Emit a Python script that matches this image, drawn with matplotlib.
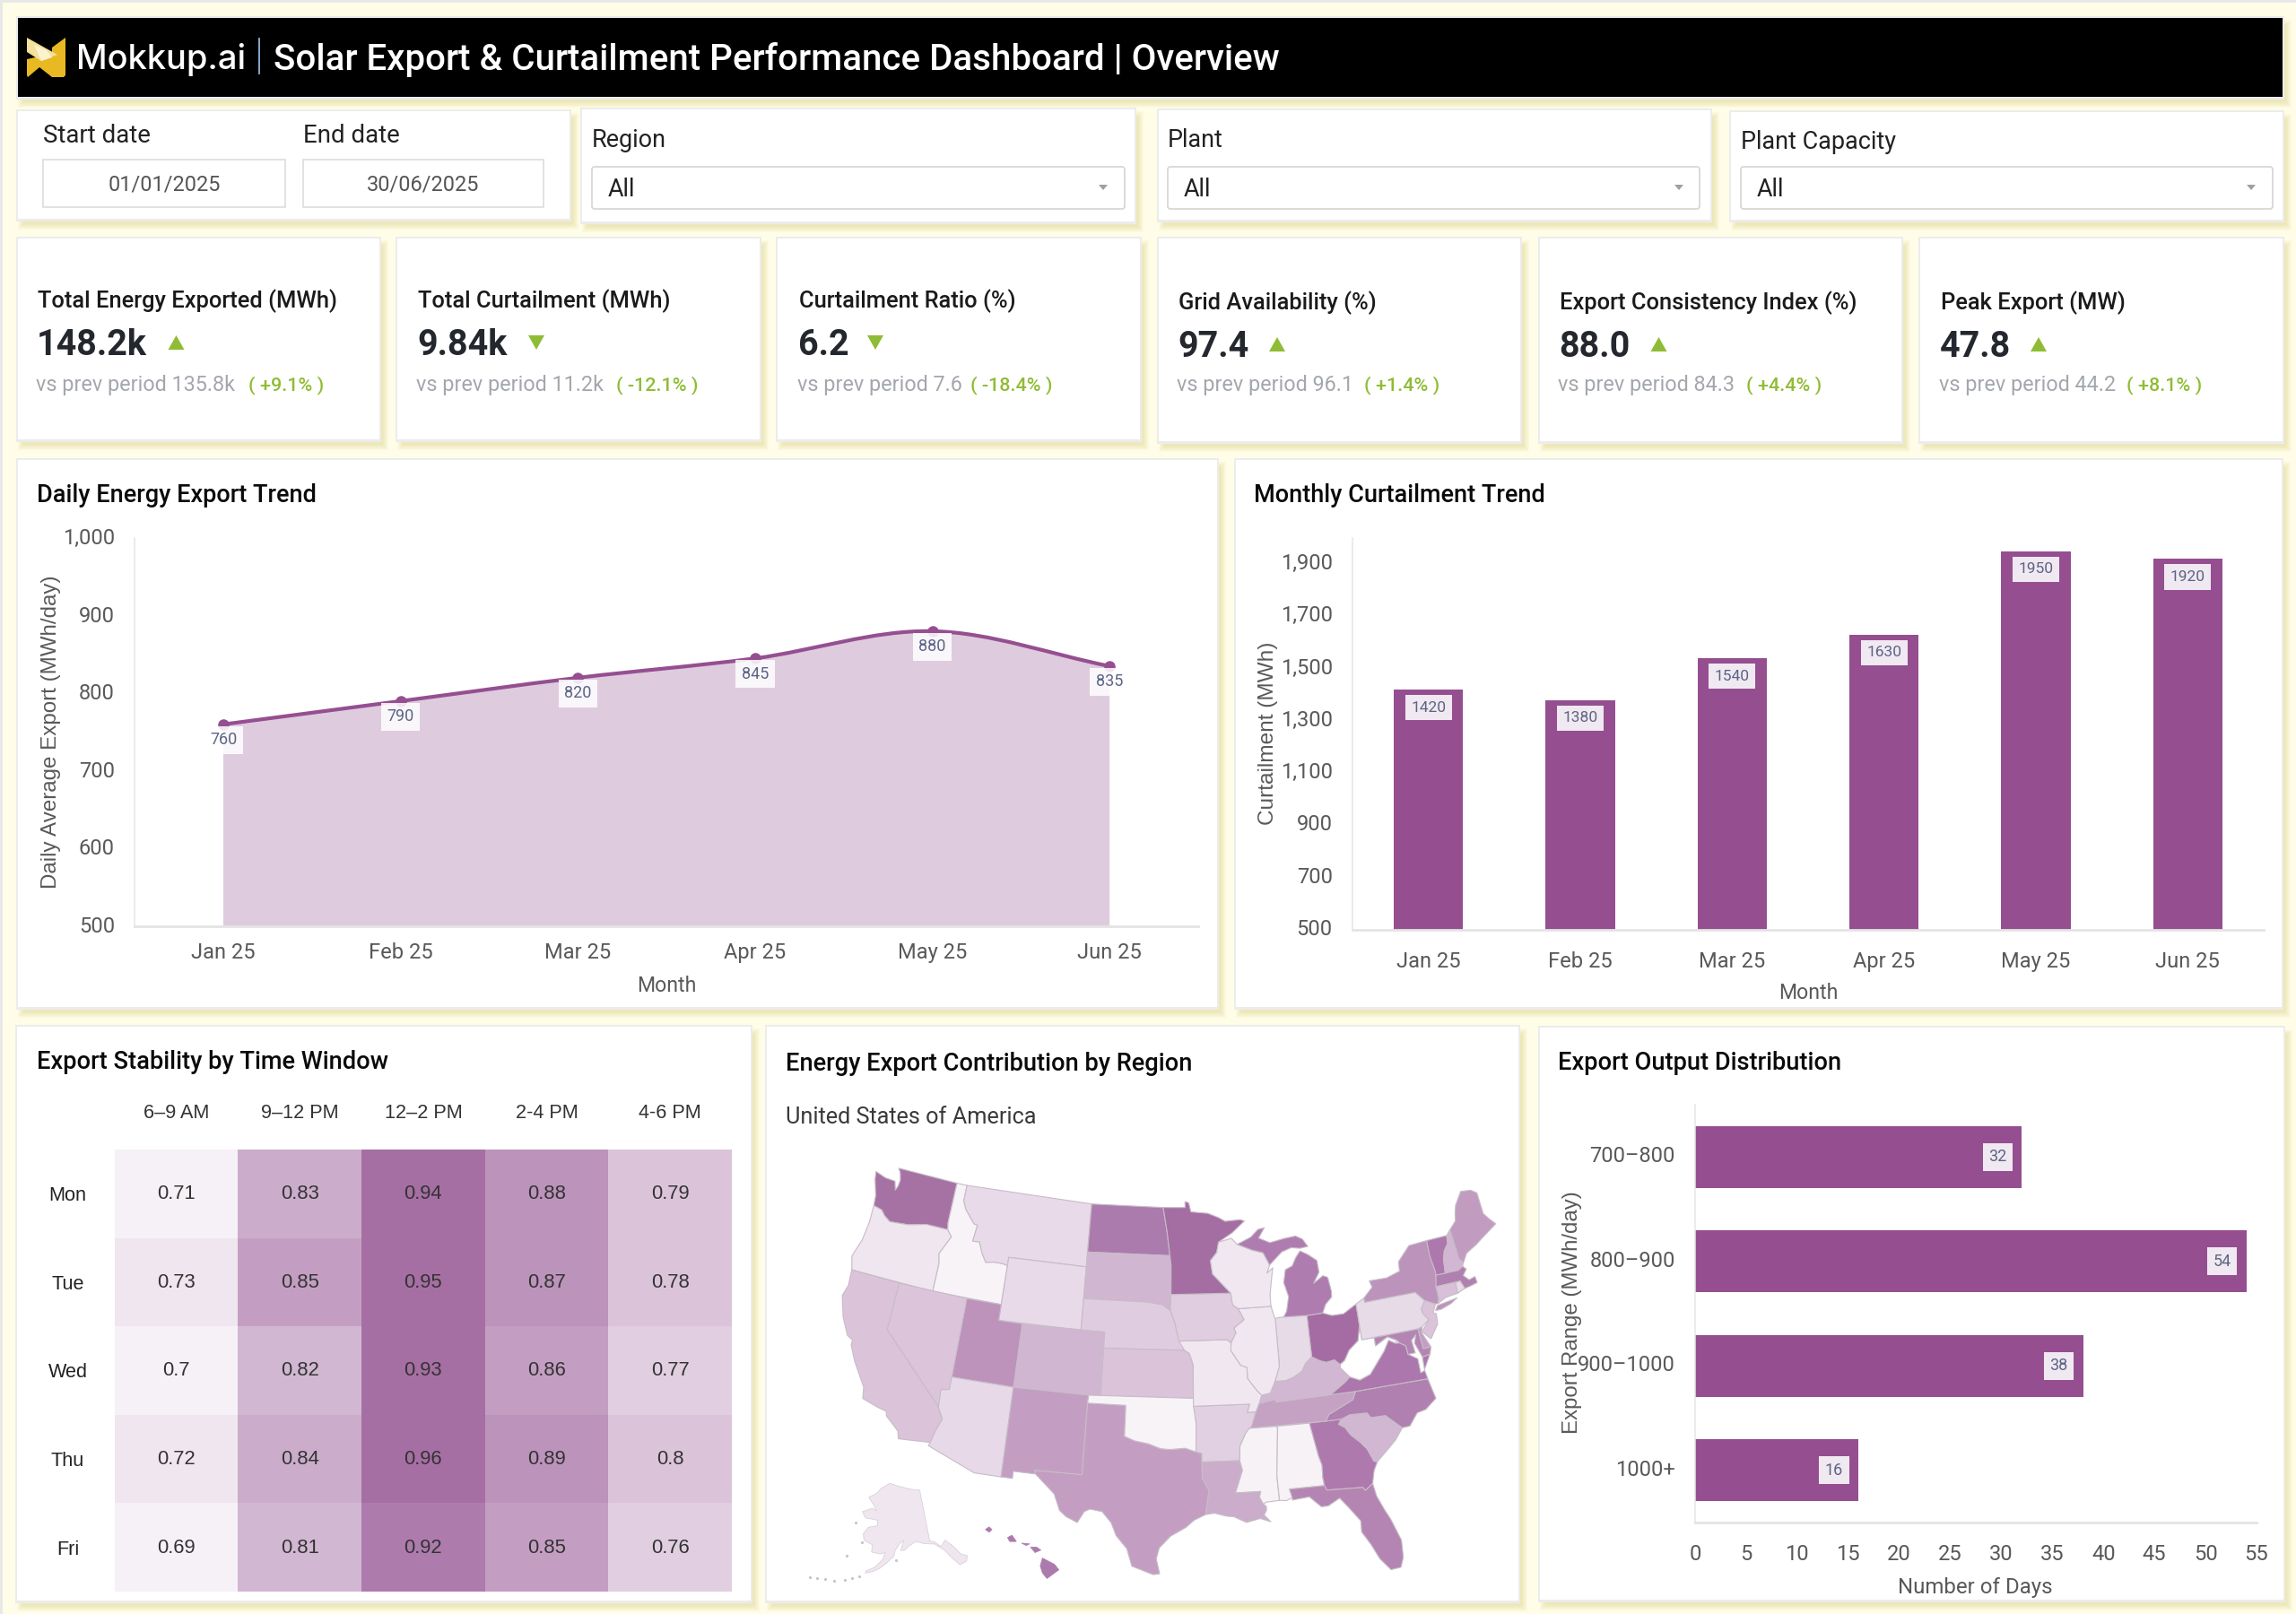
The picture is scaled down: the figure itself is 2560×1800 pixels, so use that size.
import numpy as np
import matplotlib
matplotlib.use("Agg")
import matplotlib.pyplot as plt
from matplotlib.patches import Rectangle, Polygon, PathPatch, FancyBboxPatch
from matplotlib.path import Path
from matplotlib.colors import ListedColormap, BoundaryNorm
from matplotlib.ticker import FuncFormatter
from matplotlib.transforms import Affine2D

plt.rcParams['font.family'] = ['Roboto', 'DejaVu Sans']

W, H = 2560, 1800
PURPLE = '#954F91'
LABEL = '#5C6485'
TICK = '#595959'
GREEN = '#8FBC35'

# ---- data ----
months = ['Jan 25', 'Feb 25', 'Mar 25', 'Apr 25', 'May 25', 'Jun 25']
daily_export = [760, 790, 820, 845, 880, 835]
curtailment = [1420, 1380, 1540, 1630, 1950, 1920]
range_labels = ['700–800', '800–900', '900–1000', '1000+']
range_days = [32, 54, 38, 16]
heat_cols = ['6–9 AM', '9–12 PM', '12–2 PM', '2-4 PM', '4-6 PM']
heat_rows = ['Mon', 'Tue', 'Wed', 'Thu', 'Fri']
heat_vals = [[0.71, 0.83, 0.94, 0.88, 0.79],
             [0.73, 0.85, 0.95, 0.87, 0.78],
             [0.70, 0.82, 0.93, 0.86, 0.77],
             [0.72, 0.84, 0.96, 0.89, 0.80],
             [0.69, 0.81, 0.92, 0.85, 0.76]]
heat_labels = [['0.71', '0.83', '0.94', '0.88', '0.79'],
               ['0.73', '0.85', '0.95', '0.87', '0.78'],
               ['0.7', '0.82', '0.93', '0.86', '0.77'],
               ['0.72', '0.84', '0.96', '0.89', '0.8'],
               ['0.69', '0.81', '0.92', '0.85', '0.76']]
heat_bounds = [.68, .715, .74, .775, .805, .825, .845, .865, .90, .925, .97]
heat_colors = ['#F6F1F6', '#F0E6EF', '#E1CFE1', '#DBC4DA', '#D1B7D2', '#CBADCB',
               '#C39EC2', '#BC93BB', '#AE7BAD', '#A66FA3']
kpi_titles = ['Total Energy Exported (MWh)', 'Total Curtailment (MWh)', 'Curtailment Ratio (%)',
              'Grid Availability (%)', 'Export Consistency Index (%)', 'Peak Export (MW)']
kpi_values = ['148.2k', '9.84k', '6.2', '97.4', '88.0', '47.8']
kpi_prev = ['vs prev period 135.8k', 'vs prev period 11.2k', 'vs prev period 7.6',
            'vs prev period 96.1', 'vs prev period 84.3', 'vs prev period 44.2']
kpi_delta = ['( +9.1% )', '( -12.1% )', '( -18.4% )', '( +1.4% )', '( +4.4% )', '( +8.1% )']
kpi_up = [True, False, False, True, True, True]

state_color = {
 'WA':'#A672A4','OR':'#F0E6EF','ID':'#F7F3F7','MT':'#E8DAE8','WY':'#E8DAE8','ND':'#AC7BAD','SD':'#D1B6D2',
 'NE':'#E0CCE0','KS':'#DBC3DA','CO':'#D1B6D2','UT':'#BD92BB','NV':'#DCC5DB','CA':'#DBC4DA','AZ':'#E7D9E7',
 'NM':'#C39EC2','TX':'#C39EC2','OK':'#F7F3F7','AR':'#E1CFE2','LA':'#CBADCB','MS':'#F6F2F6','AL':'#F6F2F6',
 'GA':'#AE79AD','FL':'#B485B3','SC':'#D1B7D2','NC':'#B081B0','TN':'#C5A1C4','KY':'#D1B7D2','VA':'#AC77AC',
 'VA2':'#AC77AC','WV':'#FFFFFF','OH':'#A46CA2','IN':'#E8DBE8','IL':'#F1E7F0','MO':'#F1E7F0','IA':'#E0CDE0',
 'MN':'#A46EA2','WI':'#F1E7F0','MI':'#AF7CAF','MI2':'#AF7CAF','PA':'#E8DBE8','NY':'#BC93BB','NY2':'#BC93BB',
 'VT':'#AD78AD','NH':'#D1B7D2','ME':'#C19CC0','MA':'#B081B0','CT':'#D8C0D8','RI':'#E8DBE8','NJ':'#DBC4DA',
 'DE':'#C39EC2','MD':'#B485B3'}

states = {
'WA':[(-124.73,48.38),(-123.7,48.17),(-122.76,48.14),(-122.5,47.6),(-122.35,47.9),(-122.3,48.3),(-122.5,48.75),(-122.76,49.0),(-117.03,49.0),(-117.04,46.42),(-116.92,45.99),(-118.98,46.0),(-119.3,45.93),(-120.5,45.7),(-121.2,45.65),(-122.2,45.58),(-122.8,45.85),(-123.2,46.15),(-124.0,46.27),(-124.1,46.9),(-124.6,47.9)],
'OR':[(-124.0,46.27),(-123.2,46.15),(-122.8,45.85),(-122.2,45.58),(-121.2,45.65),(-120.5,45.7),(-119.3,45.93),(-118.98,46.0),(-116.92,45.99),(-116.46,45.6),(-116.85,45.0),(-117.22,44.4),(-117.03,43.8),(-117.03,42.0),(-124.21,42.0),(-124.55,42.84),(-124.1,44.0),(-123.95,45.2)],
'ID':[(-117.03,49.0),(-116.05,49.0),(-116.05,48.0),(-115.7,47.5),(-114.7,46.7),(-114.35,46.65),(-114.5,45.6),(-113.9,45.65),(-113.45,44.95),(-113.0,44.45),(-112.3,44.55),(-111.5,44.55),(-111.05,44.48),(-111.05,42.0),(-117.03,42.0),(-117.03,43.8),(-117.22,44.4),(-116.85,45.0),(-116.46,45.6),(-116.92,45.99),(-117.04,46.42)],
'MT':[(-116.05,49),(-104.05,49),(-104.05,45),(-111.05,45),(-111.05,44.48),(-111.5,44.55),(-112.3,44.55),(-113.0,44.45),(-113.45,44.95),(-113.9,45.65),(-114.5,45.6),(-114.35,46.65),(-114.7,46.7),(-115.7,47.5),(-116.05,48)],
'WY':[(-111.05,45),(-104.05,45),(-104.05,41),(-111.05,41)],
'ND':[(-104.05,49),(-97.23,49),(-96.85,47.5),(-96.56,45.94),(-104.05,45.94)],
'SD':[(-104.05,45.94),(-96.56,45.94),(-96.45,45.3),(-96.45,43.5),(-96.5,42.5),(-97.2,42.85),(-98.5,43.0),(-104.05,43.0)],
'NE':[(-104.05,43),(-98.5,43),(-97.2,42.85),(-96.5,42.5),(-96.1,41.7),(-95.9,41.0),(-95.31,40.0),(-102.05,40),(-102.05,41),(-104.05,41)],
'KS':[(-102.05,40),(-95.31,40),(-94.9,39.8),(-94.6,39.1),(-94.62,37),(-102.04,37)],
'CO':[(-109.05,41),(-102.05,41),(-102.05,37),(-109.05,37)],
'UT':[(-114.05,42),(-111.05,42),(-111.05,41),(-109.05,41),(-109.05,37),(-114.05,37)],
'NV':[(-120,42),(-114.05,42),(-114.05,36.2),(-114.7,36.1),(-114.63,35),(-120,39)],
'CA':[(-124.21,42),(-120,42),(-120,39),(-114.63,35),(-114.15,34.3),(-114.5,33.5),(-114.72,32.72),(-117.12,32.53),(-117.3,33.0),(-118.4,33.75),(-118.5,34.03),(-119.2,34.15),(-120.5,34.45),(-120.65,35.15),(-121.9,36.6),(-122.5,37.5),(-122.5,37.8),(-123.0,38.0),(-123.75,39.0),(-124.35,40.3),(-124.1,41.0)],
'AZ':[(-114.05,37),(-109.05,37),(-109.05,31.33),(-111.07,31.33),(-114.81,32.5),(-114.72,32.72),(-114.5,33.5),(-114.15,34.3),(-114.63,35),(-114.7,36.1),(-114.05,36.2)],
'NM':[(-109.05,37),(-103,37),(-103.04,36.5),(-103.06,32),(-106.62,32),(-106.53,31.78),(-108.2,31.78),(-108.2,31.33),(-109.05,31.33)],
'TX':[(-103.04,36.5),(-100,36.5),(-100,34.56),(-99.2,34.3),(-98.1,34.13),(-97.2,33.85),(-96.5,33.8),(-95.3,33.88),(-94.48,33.64),(-94.04,33.55),(-94.04,33.0),(-94.04,31.99),(-93.55,31.2),(-93.7,30.5),(-93.84,29.7),(-94.7,29.35),(-95.3,28.9),(-96.4,28.35),(-97.2,27.6),(-97.4,26.9),(-97.15,25.96),(-97.6,25.9),(-99.1,26.4),(-99.5,27.5),(-100.3,28.3),(-100.7,29.1),(-101.4,29.77),(-102.3,29.88),(-102.7,29.7),(-103.15,28.98),(-104.0,29.3),(-104.5,29.65),(-105,30.65),(-106.53,31.78),(-106.62,32),(-103.06,32)],
'OK':[(-103,37),(-94.62,37),(-94.43,35.4),(-94.48,33.64),(-95.3,33.88),(-96.5,33.8),(-97.2,33.85),(-98.1,34.13),(-99.2,34.3),(-100,34.56),(-100,36.5),(-103.04,36.5)],
'AR':[(-94.62,36.5),(-90.15,36.5),(-90.37,35.99),(-89.7,36.0),(-90.1,35.1),(-90.6,34.7),(-91.1,33.9),(-91.17,33.0),(-94.04,33.0),(-94.04,33.55),(-94.48,33.64),(-94.43,35.4)],
'LA':[(-94.04,33),(-91.17,33),(-91.0,32.4),(-91.6,31.0),(-89.73,31.0),(-89.85,30.65),(-89.6,30.18),(-89.4,30.05),(-89.4,29.8),(-89.6,29.5),(-89.15,29.05),(-89.9,29.3),(-90.9,29.1),(-91.8,29.5),(-92.3,29.55),(-93.2,29.77),(-93.84,29.7),(-93.7,30.5),(-93.55,31.2),(-94.04,31.99)],
'MS':[(-91.17,33),(-91.1,33.9),(-90.6,34.7),(-90.3,35.0),(-88.2,35.0),(-88.1,34.9),(-88.45,31.9),(-88.4,30.35),(-89.4,30.3),(-89.6,30.18),(-89.85,30.65),(-89.73,31),(-91.6,31),(-91,32.4)],
'AL':[(-88.2,35),(-85.6,35),(-85.18,32.87),(-85.0,32.3),(-85.05,31.55),(-85.0,31),(-87.6,31),(-87.45,30.45),(-87.9,30.3),(-88.4,30.35),(-88.45,31.9),(-88.1,34.9)],
'GA':[(-85.6,35),(-83.11,35),(-83.35,34.7),(-82.9,34.45),(-82.55,33.95),(-81.9,33.4),(-81.45,32.9),(-81.1,32.1),(-80.85,32.03),(-81.2,31.5),(-81.45,30.72),(-82.05,30.36),(-82.2,30.57),(-84.86,30.7),(-85,31),(-85.05,31.55),(-85,32.3),(-85.18,32.87)],
'FL':[(-87.6,31),(-85,31),(-84.86,30.7),(-82.2,30.57),(-82.05,30.36),(-81.45,30.72),(-81.3,29.9),(-80.9,29.0),(-80.55,28.3),(-80.05,26.9),(-80.12,25.8),(-80.4,25.2),(-81.1,25.15),(-81.75,25.95),(-82.2,26.9),(-82.75,27.8),(-82.7,28.5),(-83.4,29.4),(-84.0,30.1),(-84.9,29.7),(-85.4,29.7),(-86.2,30.4),(-87.45,30.3),(-87.45,30.45)],
'SC':[(-83.35,34.7),(-83.11,35),(-82.4,35.2),(-81.05,35.15),(-80.8,34.82),(-79.67,34.8),(-78.55,33.86),(-79.2,33.2),(-79.9,32.7),(-80.85,32.03),(-81.1,32.1),(-81.45,32.9),(-81.9,33.4),(-82.55,33.95),(-82.9,34.45)],
'NC':[(-84.32,35),(-83.11,35),(-82.4,35.2),(-81.05,35.15),(-80.8,34.82),(-79.67,34.8),(-78.55,33.86),(-77.95,33.88),(-77.2,34.6),(-76.5,34.7),(-75.55,35.25),(-75.85,36.55),(-81.68,36.59),(-82.0,36.1),(-83.0,35.75),(-84.0,35.4)],
'TN':[(-90.3,35),(-84.32,35),(-84.0,35.4),(-83,35.75),(-82,36.1),(-81.68,36.59),(-83.68,36.6),(-88.07,36.5),(-88.07,36.68),(-89.4,36.5),(-89.7,36.0),(-90.1,35.1)],
'KY':[(-89.4,36.5),(-88.07,36.68),(-88.07,36.5),(-83.68,36.6),(-82.3,37.3),(-81.97,37.54),(-82.6,38.17),(-82.6,38.4),(-83.0,38.73),(-83.7,38.65),(-84.2,38.8),(-84.82,39.1),(-85.4,38.73),(-85.75,38.27),(-86.5,37.95),(-87.1,37.8),(-88.0,37.8),(-88.45,37.1),(-89.15,37.0)],
'VA':[(-83.68,36.6),(-81.68,36.59),(-75.85,36.55),(-75.95,37.1),(-76.3,37.0),(-76.3,37.9),(-77.0,38.3),(-77.05,38.85),(-77.5,39.1),(-77.83,39.13),(-78.35,39.4),(-78.9,38.75),(-79.3,38.4),(-80.3,37.5),(-81.2,37.25),(-81.97,37.54),(-82.3,37.3)],
'VA2':[(-75.25,38.03),(-75.9,37.95),(-75.95,37.15),(-75.6,37.6)],
'WV':[(-82.6,38.17),(-81.97,37.54),(-81.2,37.25),(-80.3,37.5),(-79.3,38.4),(-78.9,38.75),(-78.35,39.4),(-77.83,39.13),(-77.72,39.32),(-78.4,39.62),(-79.48,39.2),(-79.48,39.72),(-80.52,39.72),(-80.52,40.64),(-80.85,39.7),(-81.7,39.2),(-82.2,38.6),(-82.6,38.4)],
'OH':[(-84.82,41.7),(-83.45,41.73),(-82.7,41.5),(-81.7,41.5),(-80.52,41.98),(-80.52,40.64),(-80.85,39.7),(-81.7,39.2),(-82.2,38.6),(-82.6,38.4),(-83,38.73),(-83.7,38.65),(-84.2,38.8),(-84.82,39.1)],
'IN':[(-87.53,41.72),(-87.2,41.76),(-86.8,41.76),(-84.82,41.7),(-84.82,39.1),(-85.4,38.73),(-85.75,38.27),(-86.5,37.95),(-87.1,37.8),(-88.0,37.8),(-87.55,38.7),(-87.53,39.35)],
'IL':[(-90.65,42.5),(-87.8,42.5),(-87.6,41.85),(-87.53,41.72),(-87.53,39.35),(-87.55,38.7),(-88.0,37.8),(-88.45,37.1),(-89.15,37.0),(-89.5,37.3),(-90.2,38.1),(-90.2,38.8),(-90.7,38.95),(-91.45,39.9),(-91.4,40.4),(-90.95,41.0),(-91.1,41.3),(-90.2,41.8)],
'MO':[(-95.77,40.58),(-91.73,40.6),(-91.4,40.4),(-91.45,39.9),(-90.7,38.95),(-90.2,38.8),(-90.2,38.1),(-89.5,37.3),(-89.15,37.0),(-89.4,36.5),(-89.7,36.0),(-90.37,35.99),(-90.15,36.5),(-94.62,36.5),(-94.62,37),(-94.6,39.1),(-94.9,39.8),(-95.31,40.0)],
'IA':[(-96.45,43.5),(-91.22,43.5),(-91.1,42.75),(-90.65,42.5),(-90.2,41.8),(-91.1,41.3),(-90.95,41.0),(-91.4,40.4),(-91.73,40.6),(-95.77,40.58),(-95.9,41.0),(-96.1,41.7),(-96.5,42.5)],
'MN':[(-97.23,49),(-95.15,49),(-95.15,49.38),(-94.8,49.3),(-94.6,48.72),(-93.0,48.6),(-92.0,48.3),(-91.4,48.05),(-90,48.1),(-89.6,48.0),(-90.8,47.3),(-92.1,46.75),(-92.3,46.1),(-92.9,45.6),(-92.75,44.75),(-91.22,43.5),(-96.45,43.5),(-96.45,45.3),(-96.56,45.94),(-96.85,47.5)],
'WI':[(-92.1,46.75),(-90.9,46.95),(-90.4,46.55),(-89.1,46.13),(-88.1,45.9),(-87.6,45.1),(-87.9,44.6),(-87.35,44.9),(-87.55,44.2),(-87.8,43.2),(-87.8,42.5),(-90.65,42.5),(-91.1,42.75),(-91.22,43.5),(-92.75,44.75),(-92.9,45.6),(-92.3,46.1)],
'MI':[(-86.8,41.76),(-84.82,41.7),(-83.45,41.73),(-83.1,42.25),(-82.5,42.65),(-82.45,43.0),(-82.6,43.9),(-83.0,44.05),(-83.9,43.65),(-83.3,44.3),(-83.35,45.05),(-84.1,45.5),(-84.75,45.78),(-85.2,45.4),(-85.6,44.9),(-86.25,44.7),(-86.5,43.9),(-86.2,43.0),(-86.5,42.1)],
'MI2':[(-90.4,46.55),(-89.1,46.95),(-88.4,47.4),(-87.8,47.47),(-88.4,46.85),(-87.4,46.5),(-86.1,46.67),(-85.0,46.75),(-84.4,46.5),(-84.0,46.0),(-84.75,45.95),(-85.5,46.05),(-86.4,45.85),(-87.6,45.1),(-88.1,45.9),(-89.1,46.13)],
'PA':[(-80.52,41.98),(-79.76,42.27),(-79.76,42.0),(-75.35,42.0),(-74.7,41.36),(-75.15,40.9),(-75.1,40.6),(-74.72,40.15),(-75.4,39.8),(-75.79,39.72),(-80.52,39.72)],
'NY':[(-79.76,42.27),(-78.9,42.85),(-79.05,43.27),(-77.5,43.25),(-76.3,43.5),(-76.2,44.1),(-75.0,44.95),(-73.35,45.0),(-73.4,44.0),(-73.25,43.0),(-73.27,42.75),(-73.5,42.05),(-73.5,41.3),(-73.65,41.0),(-73.9,41.0),(-74.7,41.36),(-75.35,42.0),(-79.76,42.0)],
'NY2':[(-74.0,40.6),(-73.75,40.88),(-72.5,41.0),(-72.0,41.05),(-72.6,40.8),(-73.5,40.6)],
'VT':[(-73.35,45),(-71.5,45),(-71.6,44.5),(-72.05,44.1),(-72.3,43.6),(-72.45,42.73),(-73.27,42.75),(-73.25,43.0),(-73.4,44)],
'NH':[(-71.5,45),(-71.08,45.3),(-70.98,43.4),(-70.7,43.07),(-70.85,42.87),(-71.3,42.7),(-72.45,42.73),(-72.3,43.6),(-72.05,44.1),(-71.6,44.5)],
'ME':[(-71.08,45.3),(-70.4,45.75),(-70.25,46.2),(-70.0,46.7),(-69.2,47.45),(-68.3,47.35),(-67.8,47.07),(-67.8,45.7),(-67.45,45.3),(-67.0,44.85),(-68.5,44.25),(-69.2,43.95),(-70.2,43.6),(-70.7,43.07),(-70.98,43.4)],
'MA':[(-73.5,42.05),(-73.27,42.75),(-72.45,42.73),(-71.3,42.7),(-70.85,42.87),(-70.6,42.65),(-71.0,42.3),(-70.6,41.95),(-70.05,42.05),(-70.0,41.65),(-70.65,41.55),(-71.15,41.5),(-71.38,42.02),(-71.8,42.02)],
'RI':[(-71.8,42.02),(-71.38,42.02),(-71.15,41.5),(-71.85,41.32)],
'CT':[(-73.5,42.05),(-71.8,42.02),(-71.85,41.32),(-72.9,41.25),(-73.65,41.0),(-73.5,41.3)],
'NJ':[(-74.7,41.36),(-73.9,41.0),(-74.25,40.5),(-74.0,40.4),(-74.1,39.75),(-74.9,38.95),(-75.5,39.5),(-74.72,40.15),(-75.1,40.6),(-75.15,40.9)],
'DE':[(-75.79,39.72),(-75.4,39.8),(-75.55,39.45),(-75.05,38.45),(-75.7,38.45)],
'MD':[(-79.48,39.72),(-75.79,39.72),(-75.7,38.45),(-75.05,38.45),(-75.25,38.03),(-75.9,37.95),(-76.3,38.9),(-76.05,39.4),(-76.5,39.1),(-76.4,38.3),(-77.0,38.3),(-77.05,38.85),(-77.5,39.1),(-77.72,39.32),(-78.4,39.62),(-79.48,39.2)],
}
alaska = [(-141,69.65),(-141,60.3),(-139.5,60.0),(-137.5,58.9),(-135.5,59.8),(-133.5,58.4),(-131.8,56.6),(-130.0,55.9),(-130.8,55.0),(-133.2,54.8),(-135,56.5),(-136.5,58.0),(-139.5,59.6),(-143,60),(-146,60.6),(-148.5,60),(-150.5,59.2),(-151.8,59.2),(-150.5,61.0),(-152,60.5),(-153.8,59.2),(-154.2,58.2),(-156.5,57.0),(-158.8,55.9),(-161,55.2),(-163.2,54.8),(-163,55.2),(-160.5,56.0),(-158,57.5),(-157.2,58.8),(-159,58.5),(-162,58.7),(-162,60),(-165.3,60.6),(-166,61.7),(-164.5,63),(-161,63.5),(-161,64.5),(-166.3,64.6),(-168.1,65.6),(-164,66.5),(-162,66.1),(-163.5,67.1),(-166.5,68.35),(-163,69.3),(-161,70.3),(-156.6,71.35),(-152,70.85),(-146,70.15)]
alaska_islands = [(-153.5,57.5),(-165,54),(-167,53.5),(-169,52.9),(-172,52.3),(-174.5,52.1),(-177,51.8),(-179,51.5),(-170,57.2),(-170,63.4),(-166,60.2)]
hawaii = [[(-155.9,20.25),(-155.1,19.85),(-154.8,19.5),(-155.6,18.95),(-155.9,19.3),(-156.05,19.75)],
          [(-156.7,20.95),(-156.3,20.95),(-156.0,20.75),(-156.4,20.6)],
          [(-157.3,21.2),(-156.75,21.15),(-157.0,21.05)],
          [(-158.25,21.55),(-157.95,21.7),(-157.65,21.3),(-158.1,21.3)],
          [(-159.75,22.05),(-159.5,22.22),(-159.3,22.05),(-159.5,21.88)]]
ALASKA_COLOR, HAWAII_COLOR = '#F0E6EF', '#AC7BAD'

# ---- page helpers ----
fig = plt.figure(figsize=(25.6, 18), dpi=100, facecolor='#FFFDE8')
bg = fig.add_axes([0, 0, 1, 1], zorder=0)
bg.set_xlim(0, W); bg.set_ylim(H, 0); bg.axis('off')
bg.add_patch(Rectangle((0, 0), W, 2.5, fc='#E8E8E8', ec='none'))
bg.add_patch(Rectangle((0, 0), 2.5, H, fc='#E8E8E8', ec='none'))

def card(x0, y0, x1, y1, fc='white'):
    for i in range(7, 0, -1):
        bg.add_patch(Rectangle((x0 + 4 - i + 3, y0 + 6 - i + 3), x1 - x0 + 2 * i - 4, y1 - y0 + 2 * i - 4,
                               fc=(0.80, 0.75, 0.35, 0.05), ec='none'))
    bg.add_patch(Rectangle((x0 - 2, y0 - 2), x1 - x0 + 4, y1 - y0 + 5, fc='#ECECEC', ec='none'))
    bg.add_patch(Rectangle((x0, y0), x1 - x0, y1 - y0, fc=fc, ec='none'))

def T(x, y, s, px, color='#111111', ha='left', weight='normal', family=None, **kw):
    kw2 = {}
    if family:
        kw2['family'] = family
    return bg.text(x, y + 0.355 * px, s, fontsize=px * 0.72, color=color, ha=ha, va='baseline',
                   fontweight=weight, **kw2, **kw)

def axes_px(x0, y0, x1, y1):
    ax = fig.add_axes([x0 / W, 1 - y1 / H, (x1 - x0) / W, (y1 - y0) / H], zorder=2)
    ax.patch.set_alpha(0)
    return ax

def style(ax):
    for s in ('top', 'right'):
        ax.spines[s].set_visible(False)
    ax.spines['left'].set_color('#E6E6E6'); ax.spines['left'].set_linewidth(1.1)
    ax.spines['bottom'].set_color('#E4E4E4'); ax.spines['bottom'].set_linewidth(2.0)
    ax.tick_params(length=0, labelsize=17, labelcolor=TICK)

def raise_yticklabels(ax, px):
    for lab in ax.get_yticklabels():
        lab.set_transform(lab.get_transform() + Affine2D().translate(0, px))

# ---- header ----
card(20, 20, 2545, 108, fc='black')
bg.add_patch(Polygon([(73, 42), (58, 53), (58, 86), (71, 86), (73, 84)], fc='#E8B923', ec='none'))
bg.add_patch(Polygon([(30, 66), (58, 60), (58, 86), (44, 75), (31, 86), (30, 84)], fc='#E8B923', ec='none'))
bg.add_patch(Polygon([(30, 42), (64, 61), (46, 68), (30, 58)], fc='#F3E09A', ec='none'))
bg.add_patch(Polygon([(38, 50), (52, 56), (58, 64), (46, 68)], fc='#FBF3D0', ec='none'))
T(85, 64, 'Mokkup.ai', 38, color='white', weight='medium', family='Inter')
bg.plot([288.5, 288.5], [43, 82], color='#9CC8EE', lw=1.2)
T(305, 64, 'Solar Export & Curtailment Performance Dashboard | Overview', 40.3, color='white', weight='medium')

# ---- filters ----
card(20, 124, 635, 244)
T(48, 149, 'Start date', 27.6, color='#222222')
T(338, 149, 'End date', 27.6, color='#222222')
for (a, b, s) in [(48, 318, '01/01/2025'), (338, 606, '30/06/2025')]:
    bg.add_patch(Rectangle((a, 178), b - a, 53, fc='white', ec='#DDDDDD', lw=1.2))
    T((a + b) / 2, 204, s, 23.5, color='#555555', ha='center')
for (cx0, cy0, cx1, cy1, lx, ly, name) in [(649, 122, 1265, 247, 660, 154, 'Region'),
                                          (1292, 123, 1907, 245, 1302, 154, 'Plant'),
                                          (1930, 125, 2545, 245, 1941, 156, 'Plant Capacity')]:
    card(cx0, cy0, cx1, cy1)
    T(lx, ly, name, 27, color='#222222')
    bg.add_patch(FancyBboxPatch((lx, 186), cx1 - cx0 - 22, 47, boxstyle='round,pad=0,rounding_size=3',
                                fc='white', ec='#D8D8D8', lw=1.3))
    T(lx + 18, 209, 'All', 27, color='#222222')
    ax_ = cx1 - 35
    bg.add_patch(Polygon([(ax_ - 5, 206), (ax_ + 5, 206), (ax_, 212)], fc='#9AA0A6', ec='none'))

# ---- KPI cards ----
kpi_x = [(20, 423), (443, 847), (867, 1271), (1292, 1695), (1717, 2120), (2141, 2545)]
kpi_tx = [42, 466, 891, 1314, 1739, 2164]
kpi_tri = [196.5, 598, 976, 1424, 1849.5, 2273]
kpi_dx = [277, 687, 1082, 1521, 1947, 2371]
for i, (a, b) in enumerate(kpi_x):
    dy = 2 if i >= 3 else 0
    card(a, 266, b, 490 + dy)
    T(kpi_tx[i], 334 + dy, kpi_titles[i], 25.5, color='#1A1A1A', weight='medium')
    T(kpi_tx[i] - 1, 382 + dy, kpi_values[i], 39.5, color='#24282E', weight='bold')
    t = kpi_tri[i]
    yy = 374 + dy
    pts = [(t - 9, yy + 16), (t + 9, yy + 16), (t, yy)] if kpi_up[i] else [(t - 9, yy), (t + 9, yy), (t, yy + 16)]
    bg.add_patch(Polygon(pts, fc=GREEN, ec='none'))
    T(kpi_tx[i] - 2, 428, kpi_prev[i], 23.4, color='#A3A7AD')
    T(kpi_dx[i], 428, kpi_delta[i], 21.5, color=GREEN, weight='medium')

# ---- line chart ----
card(20, 513, 1357, 1123)
T(41, 550, 'Daily Energy Export Trend', 27.1, color='#0A0A0A', weight='medium')
ax = axes_px(150.2, 600, 1336, 1033)
style(ax)
xs = np.arange(len(months))
y = np.array(daily_export, float)
m = np.gradient(y)
verts, codes = [(xs[0], y[0])], [Path.MOVETO]
for i in range(len(xs) - 1):
    verts += [(xs[i] + 1 / 3, y[i] + m[i] / 3), (xs[i + 1] - 1 / 3, y[i + 1] - m[i + 1] / 3), (xs[i + 1], y[i + 1])]
    codes += [Path.CURVE4] * 3
ax.add_patch(PathPatch(Path(verts + [(xs[-1], 500), (xs[0], 500), (xs[0], y[0])],
                       codes + [Path.LINETO, Path.LINETO, Path.LINETO]), fc='#DFCBDE', ec='none'))
ax.add_patch(PathPatch(Path(verts, codes), fc='none', ec=PURPLE, lw=3.0, capstyle='round'))
ax.plot(xs, y, 'o', color=PURPLE, ms=8, clip_on=False)
for xv, yv in zip(xs, daily_export):
    ax.annotate(str(yv), (xv, yv), xytext=(0, -12.6), textcoords='offset points', ha='center', va='center',
                fontsize=13, color=LABEL, annotation_clip=False,
                bbox=dict(boxstyle='square,pad=0.36', fc=(1, 1, 1, 0.86), ec='none'))
ax.set_xlim(-0.5, 5.5); ax.set_ylim(500, 1000)
ax.set_xticks(xs, months)
ax.set_yticks(range(500, 1001, 100))
ax.yaxis.set_major_formatter(FuncFormatter(lambda v, _: f'{int(v):,}'))
ax.tick_params(axis='x', pad=13); ax.tick_params(axis='y', pad=16)
raise_yticklabels(ax, 2)
T(743, 1098, 'Month', 23, color=TICK, ha='center')
bg.text(57, 816, 'Daily Average Export (MWh/day)', rotation=90, ha='center', va='center', fontsize=17.4,
        color=TICK, family='Liberation Sans')

# ---- bar chart ----
card(1378, 513, 2544, 1123)
T(1398, 550, 'Monthly Curtailment Trend', 27.1, color='#0A0A0A', weight='medium')
ax = axes_px(1508, 600, 2524, 1037)
style(ax)
bars = ax.bar(xs, curtailment, width=0.455, color=PURPLE, bottom=0)
for xv, yv in zip(xs, curtailment):
    ax.annotate(str(yv), (xv, yv), xytext=(0, -14.5), textcoords='offset points', ha='center', va='center',
                fontsize=12.5, color=LABEL, annotation_clip=False,
                bbox=dict(boxstyle='square,pad=0.38', fc=(1, 1, 1, 0.88), ec='none'))
ax.set_xlim(-0.5, 5.5); ax.set_ylim(500, 2000)
ax.set_xticks(xs, months)
ax.set_yticks(range(500, 2000, 200))
ax.yaxis.set_major_formatter(FuncFormatter(lambda v, _: f'{int(v):,}'))
ax.tick_params(axis='x', pad=17); ax.tick_params(axis='y', pad=16)
raise_yticklabels(ax, 3)
T(2016.5, 1106, 'Month', 23, color=TICK, ha='center')
bg.text(1414, 818, 'Curtailment (MWh)', rotation=90, ha='center', va='center', fontsize=17.6,
        color=TICK, family='Liberation Sans')

# ---- heatmap ----
card(19, 1145, 837, 1785)
T(41, 1182, 'Export Stability by Time Window', 27.2, color='#0A0A0A', weight='medium')
ax = axes_px(127.8, 1282, 816, 1775)
ax.axis('off')
cmap = ListedColormap(heat_colors)
norm = BoundaryNorm(heat_bounds, cmap.N)
ax.pcolormesh(np.array(heat_vals), cmap=cmap, norm=norm, edgecolors='none')
ax.set_ylim(5, 0); ax.set_xlim(0, 5)
for r in range(5):
    for c in range(5):
        ax.text(c + .5, r + .505, heat_labels[r][c], ha='center', va='center', fontsize=15.8, color='#333333',
                family='Liberation Sans')
    ax.text(-0.38, r + .525, heat_rows[r], ha='center', va='center', fontsize=15.6, color='#222222',
            family='Liberation Sans', clip_on=False)
for c in range(5):
    ax.text(c + .5, -0.415, heat_cols[c], ha='center', va='center', fontsize=15.6, color='#333333',
            family='Liberation Sans', clip_on=False)

# ---- map ----
card(855, 1145, 1693, 1785)
T(876, 1184, 'Energy Export Contribution by Region', 27.2, color='#0A0A0A', weight='medium')
T(876, 1244, 'United States of America', 25.2, color='#3A3A3A', weight='normal')

def conic(ll, lon0, p1, p2):
    a = np.radians(np.array(ll, float))
    f1, f2 = np.radians(p1), np.radians(p2)
    n = (np.sin(f1) + np.sin(f2)) / 2
    C = np.cos(f1) ** 2 + 2 * n * np.sin(f1)
    rho = np.sqrt(C - 2 * n * np.sin(a[:, 1])) / n
    th = n * (a[:, 0] - np.radians(lon0))
    return np.column_stack([rho * np.sin(th), -rho * np.cos(th)])

def us48(ll):
    return conic(ll, -96, 29.5, 45.5)

cal = us48([(-124.4, 40.4), (-66.97, 44.85), (-122.7, 49.0), (-97.4, 25.85)])
sx = (1668 - 939) / (cal[1, 0] - cal[0, 0])
sy = (1757 - 1303) / (cal[2, 1] - cal[3, 1])
ox = 939 - sx * cal[0, 0]
oy = 1757 + sy * cal[3, 1]
mx0, my0, mx1, my1 = 856, 1260, 1692, 1784
ax = axes_px(mx0, my0, mx1, my1)
ax.axis('off')
ax.set_xlim((mx0 - ox) / sx, (mx1 - ox) / sx)
ax.set_ylim((oy - my1) / sy, (oy - my0) / sy)
EDGE = '#C7BCC7'
for k, poly in states.items():
    ax.add_patch(Polygon(us48(poly), closed=True, fc=state_color[k], ec=EDGE, lw=0.8, joinstyle='round'))
# Alaska inset (scaled 0.35) and Hawaii inset, anchored at their screen positions
ak = conic(alaska, -154, 55, 65)
aka = conic([(-141, 65)], -154, 55, 65)[0]
ak_off = np.array([(1031 - ox) / sx, (oy - 1690) / sy]) - 0.35 * aka
ax.add_patch(Polygon(0.35 * ak + ak_off, closed=True, fc=ALASKA_COLOR, ec='#D9D2D9', lw=0.6))
isl = 0.35 * conic(alaska_islands, -154, 55, 65) + ak_off
ax.scatter(isl[:, 0], isl[:, 1], s=5, color='#C9C0C9', lw=0)
hia = conic([(-155.5, 19.6)], -157, 8, 18)[0]
hi_off = np.array([(1169 - ox) / sx, (oy - 1749) / sy]) - hia
for p in hawaii:
    ax.add_patch(Polygon(conic(p, -157, 8, 18) + hi_off, closed=True, fc=HAWAII_COLOR, ec=HAWAII_COLOR, lw=0.5))

# ---- horizontal bars ----
card(1717, 1146, 2546, 1784)
T(1737, 1183, 'Export Output Distribution', 27.2, color='#0A0A0A', weight='medium')
ax = axes_px(1890, 1232, 2516, 1698)
style(ax)
ypos = np.arange(len(range_labels))
ax.barh(ypos, range_days, height=0.595, color=PURPLE)
for yv, v in zip(ypos, range_days):
    ax.annotate(str(v), (v, yv), xytext=(-19.5, 0), textcoords='offset points', ha='center', va='center',
                fontsize=13, color=LABEL, annotation_clip=False,
                bbox=dict(boxstyle='square,pad=0.36', fc=(1, 1, 1, 0.88), ec='none'))
ax.set_ylim(3.5, -0.5); ax.set_xlim(0, 55)
ax.set_yticks(ypos, range_labels)
ax.set_xticks(range(0, 56, 5))
ax.tick_params(axis='x', pad=17); ax.tick_params(axis='y', pad=16)
raise_yticklabels(ax, 3)
T(2202, 1768, 'Number of Days', 24, color=TICK, ha='center')
bg.text(1753, 1464, 'Export Range (MWh/day)', rotation=90, ha='center', va='center', fontsize=17.3,
        color=TICK, family='Liberation Sans', zorder=5)

fig.savefig('out.png', dpi=100, facecolor=fig.get_facecolor())
